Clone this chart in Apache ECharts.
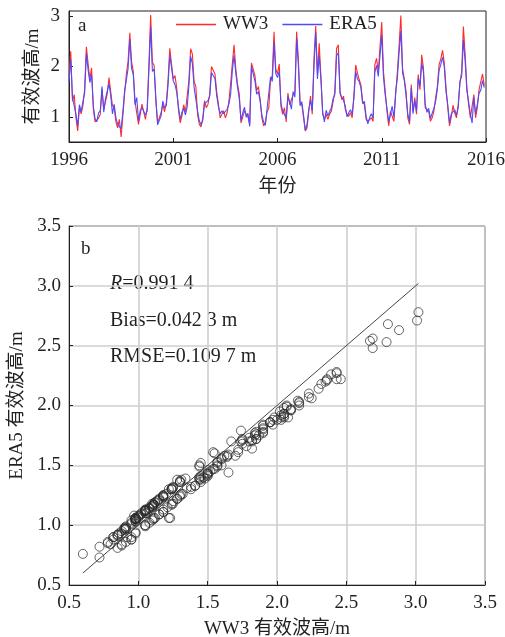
<!DOCTYPE html>
<html>
<head>
<meta charset="utf-8">
<script src="https://cdn.jsdelivr.net/npm/echarts@6/dist/echarts.min.js"></script>
<style>
    html, body { margin: 0; padding: 0; background: #fff; }
    #chart { width: 505px; height: 637px; }
</style>
</head>
<body>
<div id="chart"></div>
<script>
// monthly significant wave height, Jan 1996 .. Dec 2015
var startYear = 1996;
var ww3 = [
    1.80, 2.30, 1.31, 1.44, 0.98, 0.72, 1.18, 1.06, 1.22, 1.55, 2.39, 2.05,
    1.75, 1.97, 1.15, 0.90, 0.92, 0.97, 1.05, 1.55, 1.15, 1.30, 1.45, 1.78,
    1.50, 1.22, 1.18, 0.90, 0.78, 0.95, 0.60, 1.02, 1.45, 1.85, 2.10, 2.67,
    2.10, 1.90, 1.30, 1.28, 0.85, 1.05, 1.25, 1.10, 0.95, 1.18, 2.05, 3.02,
    2.08, 2.02, 1.30, 0.88, 0.86, 1.08, 1.25, 1.10, 1.28, 1.72, 2.36, 2.05,
    1.75, 1.82, 1.57, 1.14, 0.88, 1.02, 1.24, 1.10, 1.12, 1.72, 2.35, 2.25,
    1.70, 1.60, 1.05, 0.85, 0.80, 0.98, 1.32, 1.18, 1.25, 1.45, 2.00, 1.98,
    1.85, 1.50, 1.25, 0.98, 1.05, 1.12, 0.98, 1.08, 1.30, 1.65, 2.05, 2.43,
    1.95, 1.65, 1.45, 0.88, 1.00, 1.12, 1.05, 1.00, 0.85, 2.07, 2.10, 1.82,
    1.52, 1.60, 1.35, 0.98, 0.82, 0.88, 1.10, 1.18, 1.74, 1.82, 2.69, 1.95,
    1.85, 2.05, 1.20, 1.05, 1.18, 0.90, 1.47, 1.24, 1.21, 1.44, 1.48, 2.69,
    2.16, 1.28, 1.24, 0.98, 0.72, 0.78, 1.10, 1.41, 1.05, 2.16, 2.80, 1.84,
    2.46, 1.80, 1.05, 0.95, 1.05, 0.95, 1.05, 1.11, 1.30, 1.50, 2.36, 2.43,
    1.50, 1.34, 1.41, 1.15, 1.05, 1.01, 1.08, 0.98, 1.44, 2.03, 1.87, 1.74,
    1.64, 1.31, 1.24, 0.95, 0.91, 0.91, 0.98, 0.91, 2.03, 2.16, 1.90, 1.90,
    2.88, 1.90, 1.50, 1.11, 0.82, 1.11, 1.14, 0.91, 1.44, 1.90, 2.43, 3.01,
    1.95, 1.75, 1.50, 0.98, 0.85, 1.64, 1.11, 1.38, 1.05, 1.84, 1.54, 2.23,
    1.97, 1.18, 1.15, 1.11, 0.91, 0.98, 1.11, 1.38, 1.60, 2.03, 2.15, 2.32,
    2.07, 1.57, 1.18, 0.82, 1.00, 1.23, 1.08, 0.98, 1.24, 1.67, 1.90, 2.79,
    2.23, 1.57, 1.24, 0.98, 0.95, 1.44, 0.98, 1.18, 1.54, 1.57, 1.85, 1.62
];
var era5 = [
    1.70, 2.14, 1.38, 1.40, 1.05, 0.82, 1.24, 1.10, 1.30, 1.47, 2.26, 1.93,
    1.68, 1.84, 1.22, 0.96, 0.90, 1.08, 1.12, 1.60, 1.09, 1.36, 1.38, 1.66,
    1.43, 1.06, 1.25, 0.98, 0.86, 0.88, 0.76, 1.10, 1.52, 1.72, 1.96, 2.54,
    1.96, 1.84, 1.24, 1.38, 0.92, 1.13, 1.18, 1.16, 1.04, 1.11, 1.93, 2.78,
    1.90, 1.95, 1.37, 0.84, 0.93, 1.02, 1.31, 1.18, 1.22, 1.63, 2.22, 1.98,
    1.71, 1.64, 1.49, 1.20, 0.95, 1.09, 1.17, 1.04, 1.19, 1.61, 2.20, 2.06,
    1.58, 1.56, 1.12, 0.92, 0.84, 0.93, 1.26, 1.23, 1.32, 1.41, 1.88, 1.90,
    1.76, 1.42, 1.20, 1.06, 1.12, 1.06, 1.05, 1.15, 1.25, 1.44, 1.91, 2.22,
    1.86, 1.59, 1.36, 0.93, 1.08, 1.19, 0.99, 1.07, 0.81, 2.00, 1.97, 1.71,
    1.45, 1.50, 1.31, 1.04, 0.90, 0.83, 1.16, 1.13, 1.79, 1.70, 2.48, 1.86,
    1.78, 1.90, 1.26, 1.12, 1.11, 0.97, 1.40, 1.30, 1.15, 1.50, 1.39, 2.56,
    2.03, 1.22, 1.30, 1.03, 0.73, 0.85, 1.15, 1.33, 1.12, 2.00, 2.68, 1.75,
    2.22, 1.73, 1.10, 0.90, 1.13, 1.02, 1.00, 1.18, 1.36, 1.44, 2.21, 2.27,
    1.46, 1.39, 1.33, 1.21, 1.00, 1.08, 1.14, 1.05, 1.38, 1.90, 1.75, 1.70,
    1.58, 1.26, 1.31, 1.01, 0.86, 0.98, 1.06, 0.97, 1.88, 2.02, 1.80, 1.83,
    2.63, 1.78, 1.43, 1.17, 0.90, 1.05, 1.21, 0.99, 1.49, 1.77, 2.28, 2.71,
    1.86, 1.72, 1.41, 1.05, 0.91, 1.57, 1.06, 1.32, 1.11, 1.77, 1.61, 2.07,
    1.88, 1.25, 1.09, 1.17, 0.97, 0.94, 1.17, 1.30, 1.55, 1.92, 2.04, 2.18,
    1.99, 1.50, 1.24, 0.88, 1.06, 1.06, 1.14, 1.03, 1.18, 1.70, 1.81, 2.53,
    2.10, 1.52, 1.30, 1.05, 0.88, 1.39, 1.06, 1.24, 1.47, 1.53, 1.72, 1.58
];
var yearTicks = [1996, 2001, 2006, 2011, 2016];
var hsTicksTop = [1, 2, 3];
var statsText = ['R=0.991 4', 'Bias=0.042 3 m', 'RMSE=0.109 7 m'];

var FONT = "'Liberation Serif', 'Noto Sans CJK SC', serif";
var INK = '#231f20';

var chart = echarts.init(document.getElementById('chart'));

var ww3Line = ww3.map(function (v, i) { return [startYear + i / 12, v]; });
var era5Line = era5.map(function (v, i) { return [startYear + i / 12, v]; });
var pairs = ww3.map(function (v, i) { return [v, era5[i]]; });
var lo = Math.min.apply(null, ww3), hi = Math.max.apply(null, ww3);

var labelStyle = { fontFamily: FONT, fontSize: 19, color: INK };
var nameStyle = { fontFamily: FONT, fontSize: 19, color: INK };

chart.setOption({
    animation: false,
    textStyle: { fontFamily: FONT },
    legend: {
        left: 171, top: 10,
        icon: 'rect', itemWidth: 40, itemHeight: 1.5, itemGap: 14,
        textStyle: { fontFamily: FONT, fontSize: 19, color: INK, padding: [0, 0, 0, 2] },
        data: ['WW3', 'ERA5']
    },
    grid: [
        { left: 69, top: 11, width: 417, height: 131, outerBoundsMode: 'none', show: true, borderColor: INK, borderWidth: 1, backgroundColor: 'transparent' },
        { left: 69, top: 226, width: 416, height: 359, outerBoundsMode: 'none', show: true, borderColor: INK, borderWidth: 1, backgroundColor: 'transparent' }
    ],
    xAxis: [
        {
            gridIndex: 0, type: 'value', min: 1996, max: 2016,
            name: '年份', nameLocation: 'middle', nameGap: 36, nameTextStyle: nameStyle,
            axisLine: { lineStyle: { color: INK } },
            axisTick: { inside: true, length: 4, customValues: yearTicks, lineStyle: { color: INK } },
            axisLabel: Object.assign({ customValues: yearTicks, margin: 9, formatter: function (v) { return String(v); } }, labelStyle),
            splitLine: { show: false }
        },
        {
            gridIndex: 1, type: 'value', min: 0.5, max: 3.5, interval: 0.5,
            name: 'WW3 有效波高/m', nameLocation: 'middle', nameGap: 35, nameTextStyle: nameStyle,
            axisLine: { lineStyle: { color: INK } },
            axisTick: { inside: true, length: 4, lineStyle: { color: INK } },
            axisLabel: Object.assign({ margin: 9, formatter: function (v) { return v.toFixed(1); } }, labelStyle),
            splitLine: { show: true, lineStyle: { color: '#cfcfcf', width: 1.6 } }
        }
    ],
    yAxis: [
        {
            gridIndex: 0, type: 'value', min: 0.5, max: 3.1,
            name: '有效波高/m', nameLocation: 'middle', nameGap: 26, nameMoveOverlap: false, nameTextStyle: nameStyle,
            axisLine: { lineStyle: { color: INK } },
            axisTick: { inside: true, length: 4, customValues: hsTicksTop, lineStyle: { color: INK } },
            axisLabel: Object.assign({ customValues: hsTicksTop, margin: 9 }, labelStyle),
            splitLine: { show: false }
        },
        {
            gridIndex: 1, type: 'value', min: 0.5, max: 3.5, interval: 0.5,
            name: 'ERA5 有效波高/m', nameLocation: 'middle', nameGap: 41, nameTextStyle: nameStyle,
            axisLine: { lineStyle: { color: INK } },
            axisTick: { inside: true, length: 4, lineStyle: { color: INK } },
            axisLabel: Object.assign({ margin: 8, formatter: function (v) { return v.toFixed(1); } }, labelStyle),
            splitLine: { show: true, lineStyle: { color: '#cfcfcf', width: 1.6 } }
        }
    ],
    series: [
        {
            name: 'WW3', type: 'line', xAxisIndex: 0, yAxisIndex: 0,
            data: ww3Line, symbol: 'none', color: '#ff2a2a',
            lineStyle: { width: 1.1, color: '#ff2a2a' }
        },
        {
            name: 'ERA5', type: 'line', xAxisIndex: 0, yAxisIndex: 0,
            data: era5Line, symbol: 'none', color: '#4c4cff',
            lineStyle: { width: 1.1, color: '#4c4cff' }
        },
        {
            name: '1:1', type: 'line', xAxisIndex: 1, yAxisIndex: 1,
            data: [[lo, lo], [hi, hi]], symbol: 'none',
            lineStyle: { width: 1, color: '#444' }, z: 1
        },
        {
            name: 'pairs', type: 'scatter', xAxisIndex: 1, yAxisIndex: 1,
            data: pairs, symbol: 'circle', symbolSize: 9,
            itemStyle: { color: 'transparent', borderColor: '#2a2a2a', borderWidth: 0.9 },
            z: 3
        }
    ],
    graphic: [
        { type: 'text', left: 78, top: 17, style: { text: 'a', font: "19px " + FONT, fill: INK } },
        { type: 'text', left: 81, top: 240, style: { text: 'b', font: "19px " + FONT, fill: INK } },
        {
            type: 'text', left: 110, top: 274,
            style: {
                text: '{i|R}=0.991 4',
                font: "20px " + FONT, fill: INK,
                rich: { i: { fontStyle: 'italic', fontFamily: FONT, fontSize: 20, fill: INK } }
            }
        },
        { type: 'text', left: 110, top: 311, style: { text: statsText[1], font: "20px " + FONT, fill: INK } },
        { type: 'text', left: 110, top: 347, style: { text: statsText[2], font: "20px " + FONT, fill: INK } }
    ]
});
</script>
</body>
</html>
